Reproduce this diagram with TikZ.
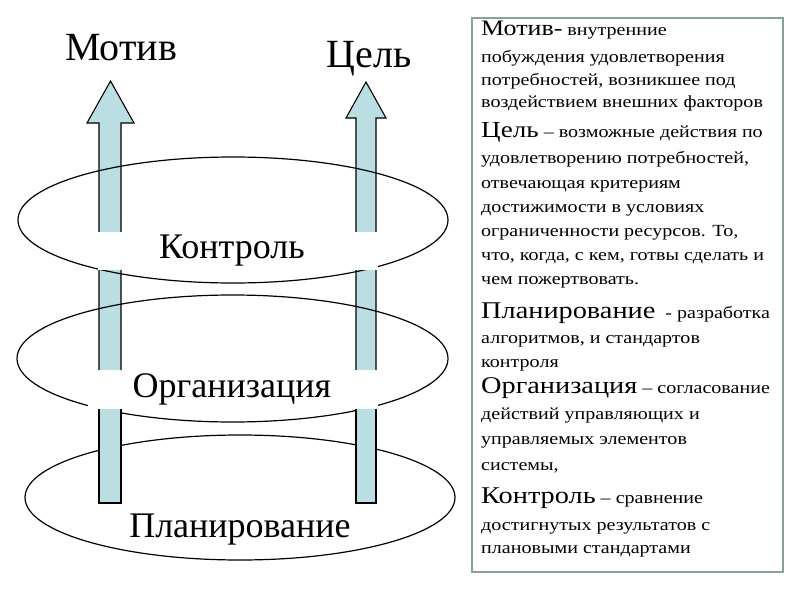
\documentclass[tikz,border=0pt]{standalone}
\usepackage{fontspec}
\usepackage{graphicx}
\setmainfont{Liberation Serif}
\definecolor{arrowfill}{RGB}{186,222,226}
\definecolor{boxborder}{RGB}{135,160,160}
\newcommand{\bigword}[1]{{\fontsize{24}{26}\selectfont #1}}
\newcommand{\wideline}[1]{\scalebox{1.18}[1]{#1}}
\begin{document}
\begin{tikzpicture}[x=1pt,y=-1pt,
  ring/.style={draw=black,line width=1.2pt},
  arrowbody/.style={fill=arrowfill,draw=black,line width=1.1pt,line join=miter},
  labelbg/.style={fill=white},
  titletext/.style={font=\fontsize{40}{44}\selectfont,anchor=base,inner sep=0pt},
  leveltext/.style={font=\fontsize{36}{40}\selectfont,anchor=base,inner sep=0pt},
  desc/.style={font=\fontsize{17}{20}\selectfont,anchor=base west,inner sep=0pt},
  infobox/.style={draw=boxborder,line width=1.5pt,fill=white}]
\useasboundingbox (0,0) rectangle (807,605);
\fill[white] (0,0) rectangle (807,605);

% bottom ellipse (under the arrows)
\draw[ring,fill=white] (240,497.5) ellipse [x radius=215pt,y radius=62.5pt];

% block arrows
\draw[arrowbody] (99,503) -- (99,123) -- (87,123) -- (110.5,81) -- (134,123) -- (121,123) -- (121,503) -- cycle;
\draw[arrowbody] (356,503) -- (356,118) -- (346,118) -- (366,82) -- (386,118) -- (376,118) -- (376,503) -- cycle;

% top and middle ellipses (outline over the arrows)
\draw[ring] (233,220) ellipse [x radius=215pt,y radius=63pt];
\draw[ring] (232.5,358.5) ellipse [x radius=215.5pt,y radius=63.5pt];

% white label backgrounds
\fill[labelbg] (98,232) rectangle (377.5,270);
\fill[labelbg] (88,370) rectangle (378,409);

% lower shaft pieces drawn on top
\fill[arrowfill] (99,409) rectangle (121,503);
\draw[line width=1.1pt] (99,409) -- (99,503) -- (121,503) -- (121,409);
\fill[arrowfill] (356,409) rectangle (376,503);
\draw[line width=1.1pt] (356,409) -- (356,503) -- (376,503) -- (376,409);

% titles and level labels
\node[titletext] (motiv) at (121,60) {Мотив};
\node[titletext] (tsel) at (369,67) {Цель};
\node[leveltext] (kontrol) at (232,258) {Контроль};
\node[leveltext] (organiz) at (232,397) {Организация};
\node[leveltext] (planir) at (240,537) {Планирование};

% explanation box
\draw[infobox] (472,18) rectangle (783,572);
\node[desc] (l1) at (481,35) {\wideline{{\fontsize{22}{24}\selectfont Мотив-} внутренние}};
\node[desc] (l2) at (481,62) {\wideline{побуждения удовлетворения}};
\node[desc] (l3) at (481,85) {\wideline{потребностей, возникшее под}};
\node[desc] (l4) at (481,107) {\wideline{воздействием внешних факторов}};
\node[desc] (l5) at (481,137) {\wideline{{\fontsize{23}{25}\selectfont Цель} – возможные действия по}};
\node[desc] (l6) at (481,163) {\wideline{удовлетворению потребностей,}};
\node[desc] (l7) at (481,188) {\wideline{отвечающая критериям}};
\node[desc] (l8) at (481,212) {\wideline{достижимости в условиях}};
\node[desc] (l9) at (481,236) {\wideline{ограниченности ресурсов. То,}};
\node[desc] (l10) at (481,260) {\wideline{что, когда, с кем, готвы сделать и}};
\node[desc] (l11) at (481,284) {\wideline{чем пожертвовать.}};
\node[desc] (l12) at (481,318) {\wideline{\bigword{Планирование}\ \ - разработка}};
\node[desc] (l13) at (481,343) {\wideline{алгоритмов, и стандартов}};
\node[desc] (l14) at (481,367) {\wideline{контроля}};
\node[desc] (l15) at (481,393) {\wideline{\bigword{Организация} – согласование}};
\node[desc] (l16) at (481,419) {\wideline{действий управляющих и}};
\node[desc] (l17) at (481,444) {\wideline{управляемых элементов}};
\node[desc] (l18) at (481,470) {\wideline{системы,}};
\node[desc] (l19) at (481,503) {\wideline{\bigword{Контроль} – сравнение}};
\node[desc] (l20) at (481,530) {\wideline{достигнутых результатов с}};
\node[desc] (l21) at (481,553) {\wideline{плановыми стандартами}};
\end{tikzpicture}
\end{document}
